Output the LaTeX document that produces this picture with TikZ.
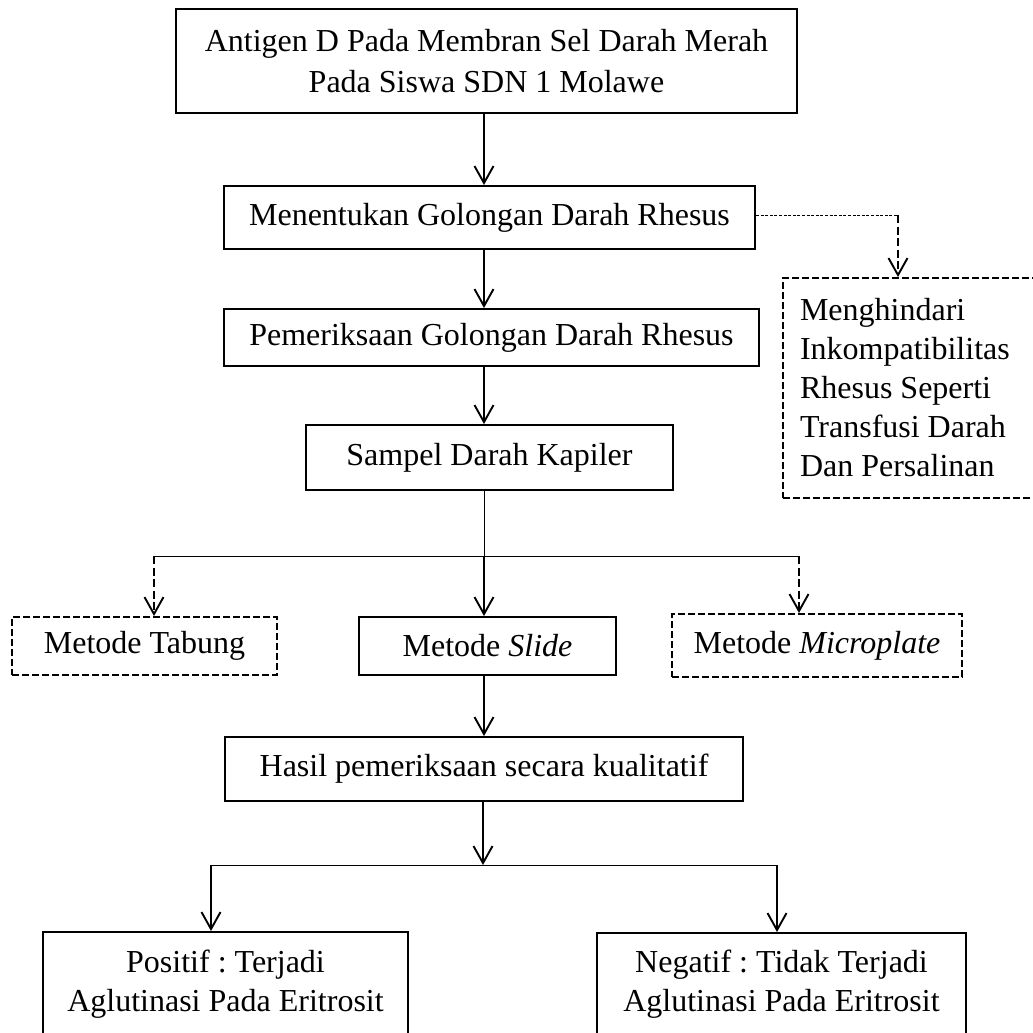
\documentclass[tikz,border=0pt]{standalone}
\usepackage{fontspec}
\setmainfont{Liberation Serif}
\usetikzlibrary{arrows.meta}
\frenchspacing
\begin{document}
\begin{tikzpicture}[x=0.5pt,y=-0.5pt,
  every node/.style={font=\fontsize{16}{19.5}\selectfont\frenchspacing, text=black},
  box/.style={draw, line width=1pt, inner sep=0pt, align=flush center},
  dbox/.style={box, dash pattern=on 3.3pt off 1.7pt},
  arr/.style={line width=0.95pt, -{Straight Barb[length=8.5pt,width=9.5pt]}},
  darr/.style={arr, dash pattern=on 4pt off 1.8pt},
  thinline/.style={line width=0.5pt},
]
\useasboundingbox (0,0) rectangle (1033,1033);
\clip (0,0) rectangle (1033,1033);
\fill[white] (0,0) rectangle (1033,1033);

\node[box, minimum width=310.5pt, minimum height=52pt] (A) at (486.5,61)
  {Antigen D Pada Membran Sel Darah Merah\\[1pt]Pada Siswa SDN 1 Molawe};
\node[box, minimum width=265.5pt, minimum height=31.5pt] (B) at (489.5,217.5)
  {Menentukan Golongan Darah Rhesus};
\node[box, minimum width=267.5pt, minimum height=28.5pt] (C) at (491.5,337.5)
  {Pemeriksaan Golongan Darah Rhesus};
\node[box, minimum width=183.5pt, minimum height=32.5pt] (D) at (489.5,457.5)
  {Sampel Darah Kapiler};
\node[dbox, minimum width=132.5pt, minimum height=29pt] (E) at (144.5,646)
  {Metode Tabung};
\node[box, minimum width=128.5pt, minimum height=29pt] (F) at (487.5,646)
  {Metode \textit{Slide}};
\node[dbox, minimum width=145pt, minimum height=31.5pt] (G) at (817,645.5)
  {Metode \textit{Microplate}};
\node[box, minimum width=259pt, minimum height=32pt] (H) at (484,769)
  {Hasil pemeriksaan secara kualitatif};
\node[box, minimum width=182.5pt, minimum height=52pt] (I) at (225.5,984)
  {Positif : Terjadi\\Aglutinasi Pada Eritrosit};
\node[box, minimum width=184.5pt, minimum height=51.5pt] (J) at (781.5,984.5)
  {Negatif : Tidak Terjadi\\Aglutinasi Pada Eritrosit};
\node[dbox, align=flush left, inner xsep=8.5pt, text width=109.5pt, minimum height=110pt] (K) at (909.5,388)
  {Menghindari\\Inkompatibilitas\\Rhesus Seperti\\Transfusi Darah\\Dan Persalinan};

\coordinate (col) at (484,0);
\draw[arr] (A.south -| col) -- (B.north -| col);
\draw[arr] (B.south -| col) -- (C.north -| col);
\draw[arr] (C.south -| col) -- (D.north -| col);

\coordinate (s1) at (484,556);
\coordinate (s1l) at (154,556);
\coordinate (s1r) at (799,556);
\draw[thinline] (D.south -| col) -- (s1);
\draw[thinline] (s1l) -- (s1r);
\draw[darr] (s1l) -- (E.north -| s1l);
\draw[arr] (s1) -- (F.north -| s1);
\draw[darr] (s1r) -- (G.north -| s1r);

\draw[arr] (F.south -| col) -- (H.north -| col);

\coordinate (s2) at (483,865);
\coordinate (s2l) at (211,865);
\coordinate (s2r) at (777,865);
\draw[arr] (H.south -| s2) -- (s2);
\draw[thinline] (s2l) -- (s2r);
\draw[arr] (s2l) -- (I.north -| s2l);
\draw[arr] (s2r) -- (J.north -| s2r);

\coordinate (kc) at (898,215);
\draw[thinline, dash pattern=on 1.5pt off 0.8pt] (B.east |- kc) -- (kc);
\draw[darr] (kc) -- (K.north -| kc);
\end{tikzpicture}
\end{document}
